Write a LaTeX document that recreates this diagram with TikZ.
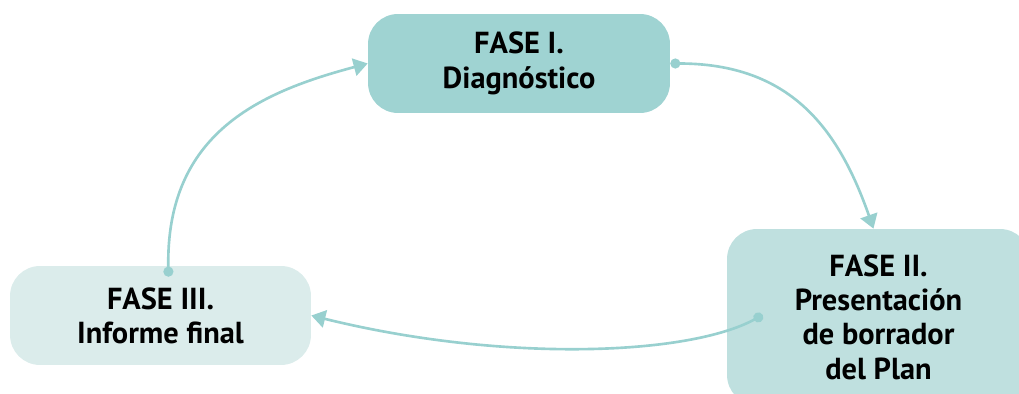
\documentclass[tikz,border=0pt]{standalone}
\usepackage{fontspec}
\setmainfont{PT Sans}
\usepackage{xcolor}
\usetikzlibrary{arrows.meta,positioning,calc}

\definecolor{faseuno}{HTML}{9FD3D2}
\definecolor{fasedos}{HTML}{BFE0DF}
\definecolor{fasetres}{HTML}{DBECEB}
\definecolor{flecha}{HTML}{98D0CF}

\begin{document}
\begin{tikzpicture}[
    x=0.02cm, y=-0.02cm,
    fase/.style={rectangle, rounded corners=0.6cm, inner sep=0pt, text centered, align=center,
        font=\fontsize{17.3}{19.5}\selectfont\bfseries},
    arrow/.style={{Circle[length=5.7pt]}-{Triangle[length=8pt,width=10pt]}, line width=1.5pt, draw=flecha}
]
    \useasboundingbox (0,0) rectangle (1019,394);
    \clip (0,0) rectangle (1019,394);

    % Phases
    \node[fase, fill=faseuno, minimum width=6.04cm, minimum height=1.98cm] (fase1) at (519,63.5) {FASE I.\\Diagnóstico};
    \node[fase, fill=fasedos, minimum width=6.06cm, minimum height=3.52cm] (fase2) at (878.5,317) {FASE II.\\Presentación\\de borrador\\del Plan};
    \node[fase, fill=fasetres, minimum width=6.02cm, minimum height=1.98cm] (fase3) at (160.5,315.5) {FASE III.\\Informe final};

    % Arrows - cycle
    \draw[arrow] (fase1.east) .. controls +(120,0) and +(-35,-100) .. ($(fase2.north)+(-5,0)$);
    \draw[arrow] ($(fase2.west)+(36,-2)$) .. controls +(-75,41) and +(190,47) .. (fase3.east);
    \draw[arrow] ($(fase3.north)+(8,11)$) .. controls +(-3,-145) and +(-105,28) .. (fase1.west);
\end{tikzpicture}
\end{document}
